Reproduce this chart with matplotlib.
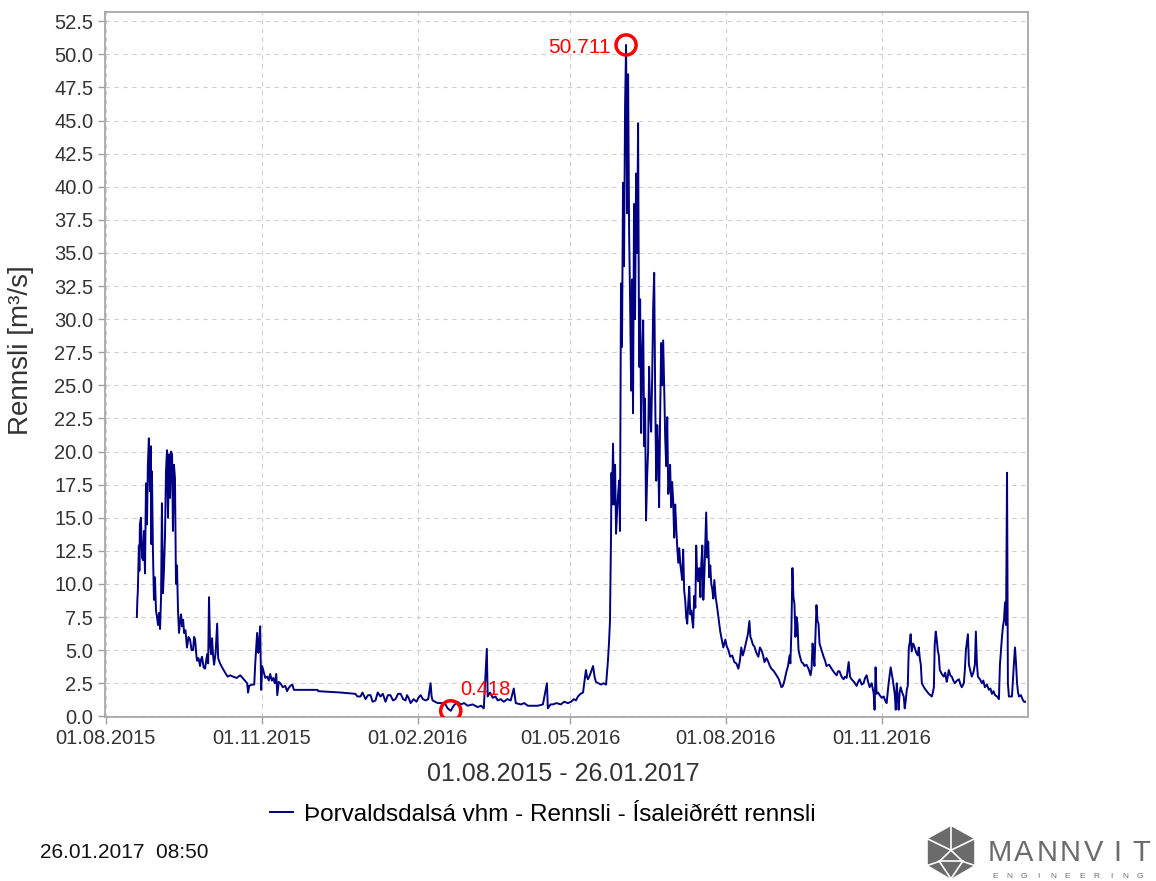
# -*- coding: utf-8 -*-
import numpy as np
import pandas as pd
import matplotlib
matplotlib.use("Agg")
from matplotlib import pyplot as plt
import matplotlib.dates as mdates
from matplotlib.ticker import FormatStrFormatter
from matplotlib.patches import Polygon

plt.rcParams['font.family'] = ['Liberation Sans', 'DejaVu Sans']

START = "2015-08-01"
END = "2017-01-26 08:50"

# days after 01.08.2015
days = [18.3, 18.6, 18.9, 19.5, 19.8, 20.1, 20.7, 21.3, 21.9, 22.5, 23.1, 23.7, 24.3, 24.8, 25.4,
        26.0, 26.6, 26.9, 27.2, 27.8, 28.4, 29.0, 29.6, 30.2, 30.8, 31.4, 32.0, 32.6, 33.1, 33.7,
        34.3, 34.9, 35.5, 36.1, 36.7, 37.3, 37.9, 38.5, 39.1, 39.6, 40.2, 40.8, 41.4, 42.0, 42.6,
        43.2, 43.8, 44.4, 45.0, 45.6, 46.2, 47.0, 47.9, 48.8, 49.7, 50.6, 51.5, 52.1, 52.7, 53.3,
        53.8, 54.7, 55.6, 56.2, 56.8, 57.7, 58.6, 59.2, 59.8, 60.4, 60.9, 61.5, 62.1, 62.7, 63.3,
        63.9, 64.8, 65.7, 66.3, 67.4, 68.6, 69.5, 70.4, 71.9, 73.4, 75.1, 77.2, 79.3, 81.4, 83.4,
        84.0, 84.6, 86.4, 87.6, 88.2, 89.3, 90.0, 90.5, 91.1, 91.4, 91.7, 92.3, 92.9, 94.1, 95.3,
        96.2, 97.0, 98.0, 98.8, 99.7, 100.6, 101.2, 102.1, 103.0, 104.5, 105.9, 107.0, 107.7, 108.9, 110.1,
        111.0, 111.8, 124.9, 125.4, 138.5, 147.3, 148.5, 150.3, 151.5, 153.3, 154.8, 156.2, 157.5, 159.2, 160.5,
        162.1, 163.5, 165.1, 166.5, 168.0, 169.5, 171.0, 172.5, 174.0, 175.5, 176.9, 177.8, 178.7, 179.9, 181.7,
        183.4, 184.5, 185.8, 187.2, 188.8, 190.3, 191.7, 192.3, 192.9, 195.9, 198.8, 200.5, 201.8, 203.6, 205.3,
        207.5, 209.5, 211.5, 213.6, 216.5, 219.5, 221.5, 223.1, 224.9, 225.4, 226.8, 228.4, 230.0, 231.4, 233.0,
        234.9, 237.0, 239.0, 240.8, 242.0, 245.0, 247.0, 249.1, 252.0, 255.0, 258.0, 260.4, 260.9, 262.5, 263.9,
        266.0, 268.6, 270.5, 272.8, 274.6, 276.3, 277.5, 278.7, 280.2, 281.7, 283.4, 284.0, 284.6, 286.0, 287.6,
        288.5, 289.3, 290.8, 292.3, 293.8, 295.3, 296.4, 297.0, 297.6, 298.2, 298.5, 298.8, 299.4, 300.0, 300.6,
        301.2, 301.8, 302.4, 303.0, 303.5, 304.1, 304.7, 305.3, 305.9, 306.5, 307.1, 307.7, 308.3, 308.9, 309.5,
        310.1, 310.7, 311.2, 311.8, 312.4, 313.0, 313.6, 314.2, 314.8, 315.4, 316.0, 316.6, 317.2, 317.8, 318.3,
        318.9, 319.5, 320.1, 320.7, 321.3, 321.9, 322.5, 323.1, 323.7, 324.3, 324.9, 325.5, 326.0, 326.6, 327.2,
        327.8, 328.4, 329.0, 329.6, 330.2, 330.8, 331.4, 332.0, 332.5, 333.1, 333.7, 334.3, 334.9, 335.5, 336.1,
        336.7, 337.3, 337.9, 338.5, 339.1, 339.6, 340.2, 340.8, 341.4, 342.0, 342.6, 343.2, 343.8, 344.4, 345.0,
        345.6, 346.2, 346.7, 347.3, 348.0, 348.5, 349.1, 349.7, 350.3, 351.0, 351.5, 352.1, 352.7, 353.4, 354.4,
        355.0, 355.6, 356.2, 356.8, 357.4, 358.0, 358.6, 359.2, 360.0, 360.9, 361.5, 362.1, 362.7, 363.3, 364.5,
        365.7, 366.5, 367.5, 368.6, 369.8, 371.0, 372.2, 373.4, 374.3, 375.1, 376.0, 376.9, 378.1, 379.0, 379.9,
        380.5, 381.1, 382.0, 382.8, 384.0, 385.2, 386.1, 387.0, 388.0, 388.8, 390.0, 391.1, 392.0, 392.9, 394.4,
        395.9, 397.3, 398.8, 399.7, 400.6, 401.8, 402.7, 403.6, 404.1, 404.7, 405.3, 405.9, 406.5, 407.1, 407.7,
        408.3, 408.9, 409.8, 410.7, 411.6, 412.4, 413.6, 414.8, 416.0, 416.6, 417.2, 417.8, 418.3, 418.9, 419.5,
        420.1, 420.7, 421.3, 422.5, 423.7, 424.6, 425.4, 427.0, 428.4, 430.0, 431.4, 432.2, 433.1, 434.3, 435.5,
        436.4, 437.3, 437.9, 438.5, 439.3, 440.2, 441.7, 443.2, 444.1, 445.0, 446.2, 447.3, 448.2, 449.1, 450.0,
        450.9, 452.1, 453.3, 453.8, 454.4, 455.0, 455.9, 456.8, 458.0, 459.2, 460.0, 460.9, 462.1, 463.3, 464.5,
        465.7, 466.3, 466.9, 467.4, 468.0, 468.6, 469.2, 470.1, 471.0, 471.6, 472.2, 472.8, 473.4, 474.0, 474.6,
        475.1, 475.7, 476.6, 477.5, 478.4, 479.3, 479.9, 480.5, 481.1, 481.7, 482.5, 483.4, 484.6, 485.8, 486.7,
        487.6, 488.2, 488.8, 489.3, 489.9, 490.5, 491.1, 491.7, 492.3, 493.5, 494.7, 495.5, 496.4, 497.0, 497.6,
        498.5, 499.4, 500.3, 501.2, 502.4, 503.6, 504.5, 505.3, 506.5, 507.1, 507.7, 508.3, 508.9, 509.5, 510.4,
        511.2, 512.1, 513.0, 513.6, 514.2, 514.8, 516.0, 517.2, 518.0, 518.9, 520.1, 521.3, 522.2, 523.1, 524.0,
        524.9, 526.1, 527.2, 527.8, 528.4, 529.0, 529.6, 530.2, 530.8, 531.4, 532.0, 532.5, 533.1, 534.0, 534.9,
        535.5, 536.1, 536.7, 537.3, 537.9, 538.5, 539.1, 540.2, 541.1, 542.0, 542.6]

# Rennsli [m3/s]
flow = [7.5, 8.8, 9.5, 12.9, 11.0, 14.5, 15.0, 12.0, 11.8, 14.0, 10.8, 17.6, 14.5, 19.0, 21.0,
        17.0, 20.4, 13.0, 18.5, 12.5, 8.8, 10.5, 8.0, 7.5, 6.9, 7.8, 6.6, 9.0, 16.1, 9.3,
        11.0, 13.5, 18.5, 20.1, 15.0, 19.8, 16.5, 20.0, 19.8, 14.0, 19.0, 18.0, 10.0, 11.4, 8.0,
        6.3, 7.2, 7.7, 6.8, 7.3, 6.3, 6.5, 5.2, 6.0, 5.8, 5.0, 5.0, 6.0, 5.8, 4.8,
        4.2, 4.4, 3.8, 4.3, 4.5, 3.7, 3.6, 4.2, 4.7, 4.0, 9.0, 5.5, 4.7, 5.9, 4.6,
        3.9, 4.8, 7.0, 4.4, 4.0, 3.7, 3.5, 3.3, 3.0, 3.1, 3.0, 2.9, 3.1, 2.8, 2.5,
        1.8, 2.3, 2.4, 2.4, 4.0, 6.3, 4.8, 5.5, 6.8, 4.5, 2.0, 3.8, 3.5, 2.9, 3.0,
        2.7, 3.2, 2.7, 2.9, 2.5, 3.2, 1.6, 2.6, 2.5, 2.2, 2.3, 1.9, 2.1, 2.3, 2.4,
        2.0, 2.0, 2.0, 1.9, 1.8, 1.7, 1.5, 1.5, 1.8, 1.3, 1.6, 1.6, 1.1, 1.2, 1.8,
        1.5, 1.7, 1.1, 1.6, 1.6, 1.2, 1.3, 1.7, 1.7, 1.3, 1.2, 1.6, 1.4, 1.0, 1.3,
        1.1, 1.4, 1.6, 1.3, 1.2, 1.3, 2.5, 1.5, 1.2, 1.0, 1.0, 0.9, 0.6, 0.418, 0.8,
        1.1, 0.9, 1.0, 0.8, 0.9, 0.7, 0.8, 0.6, 5.1, 1.5, 1.8, 1.4, 1.5, 1.2, 1.3,
        1.1, 1.3, 1.2, 2.1, 1.0, 0.9, 1.0, 0.8, 0.8, 0.8, 0.9, 2.5, 0.6, 0.9, 0.9,
        1.0, 0.9, 1.1, 1.0, 1.1, 1.3, 1.2, 1.5, 1.7, 1.8, 3.5, 3.0, 2.8, 3.2, 3.8,
        3.0, 2.6, 2.5, 2.4, 2.5, 2.4, 4.2, 5.5, 7.2, 13.5, 18.4, 16.0, 20.6, 16.0, 19.0,
        13.8, 15.5, 16.8, 17.8, 14.0, 32.7, 27.9, 40.3, 34.0, 46.0, 50.711, 38.0, 48.5, 36.5, 31.2,
        24.6, 33.0, 22.9, 38.7, 30.0, 41.0, 35.0, 44.8, 26.4, 31.5, 21.4, 27.0, 29.9, 20.4, 24.0,
        14.8, 18.0, 20.0, 26.4, 23.0, 21.5, 25.5, 30.9, 33.5, 24.0, 17.8, 22.0, 20.4, 15.8, 22.5,
        28.2, 25.0, 28.4, 24.9, 21.0, 18.9, 22.6, 16.8, 17.5, 19.0, 15.8, 17.7, 16.3, 13.5, 16.0,
        14.3, 12.8, 11.6, 12.7, 11.5, 11.0, 10.3, 12.6, 9.5, 8.8, 7.5, 7.0, 8.5, 9.8, 7.7,
        8.0, 7.2, 6.7, 9.1, 8.2, 12.9, 10.5, 10.2, 11.2, 9.0, 11.5, 12.9, 8.8, 11.0, 15.4,
        12.0, 13.2, 10.5, 11.4, 10.0, 9.6, 8.9, 10.3, 9.0, 8.2, 7.6, 7.0, 6.4, 6.0, 5.2,
        5.8, 5.3, 5.0, 4.5, 4.6, 4.1, 4.0, 3.6, 4.2, 5.2, 4.6, 5.0, 5.7, 6.2, 7.2,
        6.0, 5.8, 5.4, 5.3, 4.8, 4.5, 5.2, 5.0, 4.6, 4.1, 4.4, 4.1, 3.8, 3.6, 3.4,
        3.1, 2.8, 2.2, 2.3, 2.7, 3.4, 3.8, 4.6, 4.0, 6.5, 11.2, 9.0, 8.5, 6.0, 7.5,
        7.0, 5.0, 4.5, 4.1, 4.0, 3.8, 3.9, 3.6, 3.1, 3.6, 5.5, 4.5, 3.8, 6.0, 8.4,
        7.2, 7.0, 5.5, 5.0, 4.5, 4.2, 3.8, 3.9, 3.6, 3.3, 3.1, 3.4, 3.4, 3.0, 2.8,
        3.0, 2.9, 3.5, 4.1, 3.0, 2.8, 2.6, 2.3, 2.6, 2.8, 2.4, 2.5, 2.9, 3.1, 2.6,
        2.2, 2.5, 1.7, 0.5, 3.7, 1.7, 1.8, 1.6, 1.4, 1.5, 1.2, 1.0, 2.5, 3.7, 2.8,
        1.7, 0.5, 2.5, 1.5, 0.5, 1.8, 2.2, 1.8, 1.5, 0.6, 1.2, 2.0, 2.3, 5.2, 5.6,
        6.2, 4.9, 5.5, 5.2, 4.8, 4.6, 5.2, 4.4, 3.9, 2.5, 2.3, 2.1, 1.9, 1.7, 1.6,
        1.5, 1.8, 2.2, 5.4, 6.4, 5.8, 5.0, 4.6, 3.5, 3.2, 3.0, 3.3, 2.6, 3.0, 3.5,
        3.1, 3.0, 2.7, 2.5, 2.7, 2.8, 2.4, 2.2, 2.5, 3.5, 5.0, 5.6, 6.2, 3.9, 3.4,
        3.0, 3.3, 3.9, 6.4, 4.0, 3.0, 2.8, 2.5, 2.7, 2.2, 2.4, 2.0, 2.1, 1.7, 1.9,
        1.6, 1.5, 1.3, 3.9, 5.0, 6.0, 6.8, 7.3, 8.6, 6.9, 18.4, 2.5, 1.5, 1.5, 1.5,
        2.8, 4.1, 5.2, 4.0, 2.5, 1.8, 1.5, 1.6, 1.3, 1.1, 1.1]

x_ticks = ["2015-08-01", "2015-11-01", "2016-02-01", "2016-05-01", "2016-08-01", "2016-11-01"]
y_ticks = np.arange(0, 52.6, 2.5)

series_name = u"Þorvaldsdalsá vhm - Rennsli - Ísaleiðrétt rennsli"
period = u"01.08.2015 - 26.01.2017"
stamp = u"26.01.2017  08:50"

t = pd.Timestamp(START) + pd.to_timedelta(days, unit="D")
flow = np.array(flow)

W, H = 1156, 881
fig = plt.figure(figsize=(W / 100, H / 100), dpi=100)
ax = fig.add_axes([105 / W, 1 - 717 / H, 923 / W, 705 / H])

line, = ax.plot(t, flow, color="#000080", lw=1.4)

ax.set_xlim(pd.Timestamp(START) - pd.Timedelta(hours=12), pd.Timestamp(END))
ax.set_ylim(-0.05, 53.2)
ax.set_xticks(pd.to_datetime(x_ticks))
ax.xaxis.set_major_formatter(mdates.DateFormatter("%d.%m.%Y"))
ax.set_yticks(y_ticks)
ax.yaxis.set_major_formatter(FormatStrFormatter("%.1f"))

ax.grid(True, color="#cfcfcf", linestyle=(0, (4, 4)), lw=0.8)
for s in ax.spines.values():
    s.set_color("#a8a8a8")
    s.set_linewidth(1.3)
ax.tick_params(colors="#333333", labelsize=14.5, length=5, width=1, direction="out")
ax.tick_params(axis="both", color="#a0a0a0")

ax.set_ylabel(u"Rennsli [m³/s]", fontsize=20, color="#333333")
ax.yaxis.set_label_coords(-0.077, 0.52)
ax.set_xlabel(period, fontsize=18, color="#333333")
ax.xaxis.set_label_coords(0.497, -0.064)

# min / max markers
i_max = int(np.argmax(flow))
i_min = int(np.argmin(flow))
ax.scatter([t[i_max]], [flow[i_max]], s=210, facecolors="none", edgecolors="red",
           linewidths=2.5, zorder=5, clip_on=False)
ax.annotate(f"{flow[i_max]:.3f}", (t[i_max], flow[i_max]), xytext=(-11, -1.5),
            textcoords="offset points", ha="right", va="center", color="red", fontsize=15)
ax.scatter([t[i_min]], [flow[i_min]], s=210, facecolors="none", edgecolors="red",
           linewidths=2.5, zorder=5)
ax.annotate(f"{flow[i_min]:.3f}", (t[i_min], flow[i_min]), xytext=(7, 15),
            textcoords="offset points", ha="left", va="center", color="red", fontsize=14.5)

fig.legend([line], [series_name], loc="center", bbox_to_anchor=(543 / W, 1 - 815 / H),
           frameon=False, fontsize=17.5, handlelength=0.95, handletextpad=0.45)

fig.text(40 / W, 1 - 852 / H, stamp, fontsize=15, va="center", ha="left", color="#111111")

# Mannvit logo
lax = fig.add_axes([922 / W, 1 - 881 / H, 58 / W, 56 / H])
lax.set_xlim(0, 1)
lax.set_ylim(0, 1)
lax.axis("off")
hexa = [(0.5, 0.98), (0.9, 0.75), (0.9, 0.28), (0.5, 0.04), (0.1, 0.28), (0.1, 0.75)]
lax.add_patch(Polygon(hexa, closed=True, fc="#6b6b6b", ec="none"))
for a, b in [((0.5, 0.98), (0.5, 0.55)), ((0.1, 0.75), (0.5, 0.55)), ((0.9, 0.75), (0.5, 0.55)),
             ((0.5, 0.55), (0.3, 0.35)), ((0.5, 0.55), (0.7, 0.35)), ((0.3, 0.35), (0.7, 0.35)),
             ((0.3, 0.35), (0.5, 0.04)), ((0.7, 0.35), (0.5, 0.04)), ((0.1, 0.28), (0.3, 0.35)),
             ((0.9, 0.28), (0.7, 0.35))]:
    lax.plot([a[0], b[0]], [a[1], b[1]], color="white", lw=1.2)

for k, ch in enumerate("MANNVIT"):
    fig.text((1000 + k * 23.5) / W, 1 - 853 / H, ch, fontsize=21, ha="center", va="center",
             color="#6b6b6b")
for k, ch in enumerate("ENGINEERING"):
    fig.text((995 + k * 14.5) / W, 1 - 876 / H, ch, fontsize=6, ha="center", va="center",
             color="#6b6b6b")

fig.savefig("out.png", dpi=100)
